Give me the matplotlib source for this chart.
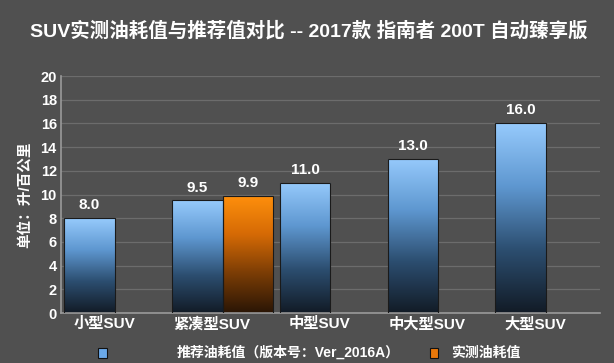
import numpy as np
import matplotlib
matplotlib.use('Agg')
import matplotlib.pyplot as plt
from matplotlib.colors import LinearSegmentedColormap
from matplotlib.patches import Rectangle

plt.rcParams['font.family'] = ['Liberation Sans', 'Noto Sans CJK SC', 'DejaVu Sans']

#### Data
categories = ['小型SUV', '紧凑型SUV', '中型SUV', '中大型SUV', '大型SUV']
recommended = [8.0, 9.5, 11.0, 13.0, 16.0]
measured = [np.nan, 9.9, np.nan, np.nan, np.nan]
title = 'SUV实测油耗值与推荐值对比 -- 2017款 指南者 200T 自动臻享版'
ylabel = '单位：升/百公里'
legend_labels = ['推荐油耗值（版本号：Ver_2016A）', '实测油耗值']
yticks = [0, 2, 4, 6, 8, 10, 12, 14, 16, 18, 20]

bg = '#505050'
blue_cmap = LinearSegmentedColormap.from_list('b', ['#121b26', '#2c4e70', '#5e97d0', '#96cafc'])
orange_cmap = LinearSegmentedColormap.from_list('o', ['#2a1505', '#7a3c05', '#d56a05', '#ff900c'])

fig = plt.figure(figsize=(6.14, 3.63), dpi=100, facecolor=bg)
ax = fig.add_axes([0.0993, 0.1377, 0.8777, 0.6529], facecolor=bg)

x = np.arange(len(categories))
w = 0.47
grad = np.linspace(0, 1, 256).reshape(-1, 1)


def gradient_bars(xpos, vals, cmap):
    bars = ax.bar(xpos, vals, w, align='edge', facecolor='none',
                  edgecolor='#1a1a1a', linewidth=0.8, zorder=3)
    for b, v in zip(bars, vals):
        if np.isnan(v):
            continue
        x0, x1 = b.get_x(), b.get_x() + b.get_width()
        im = ax.imshow(grad, cmap=cmap, origin='lower', aspect='auto',
                       extent=(x0, x1, 0, v), zorder=2)
        im.set_clip_path(b)
        ax.text((x0 + x1) / 2, v + 0.5, '%.1f' % v, ha='center', va='bottom',
                color='white', fontsize=11, fontweight='bold', zorder=4)
    return bars


gradient_bars(x - w, recommended, blue_cmap)
gradient_bars(x, measured, orange_cmap)

ax.set_xlim(-0.5, 4.5)
ax.set_ylim(0, 20)
ax.set_yticks(yticks)
ax.set_yticklabels([str(t) for t in yticks], color='white', fontsize=10.5, fontweight='bold')
ax.set_xticks(x - 0.1)
ax.set_xticklabels(categories, color='white', fontsize=11, fontweight='bold')
ax.tick_params(axis='both', length=0, pad=3)
ax.grid(axis='y', color='#6c6c6c', linewidth=0.9, zorder=0)
ax.set_axisbelow(True)
for s in ['top', 'right']:
    ax.spines[s].set_visible(False)
for s in ['left', 'bottom']:
    ax.spines[s].set_color('#9a9a9a')
    ax.spines[s].set_linewidth(1.2)
ax.set_ylabel(ylabel, color='white', fontsize=10.5, fontweight='bold', labelpad=6)

fig.text(0.503, 0.915, title, ha='center', va='center', color='white',
         fontsize=14, fontweight='bold')

# legend
fig.patches.append(Rectangle((0.160, 0.015), 0.014, 0.026, transform=fig.transFigure,
                             facecolor='#6aa8e8', edgecolor='#111111', linewidth=0.8))
fig.text(0.288, 0.028, legend_labels[0], ha='left', va='center', color='white',
         fontsize=10, fontweight='bold')
fig.patches.append(Rectangle((0.700, 0.015), 0.014, 0.026, transform=fig.transFigure,
                             facecolor='#e9780a', edgecolor='#111111', linewidth=0.8))
fig.text(0.735, 0.028, legend_labels[1], ha='left', va='center', color='white',
         fontsize=10, fontweight='bold')

plt.savefig('out.png', dpi=100, facecolor=bg)
